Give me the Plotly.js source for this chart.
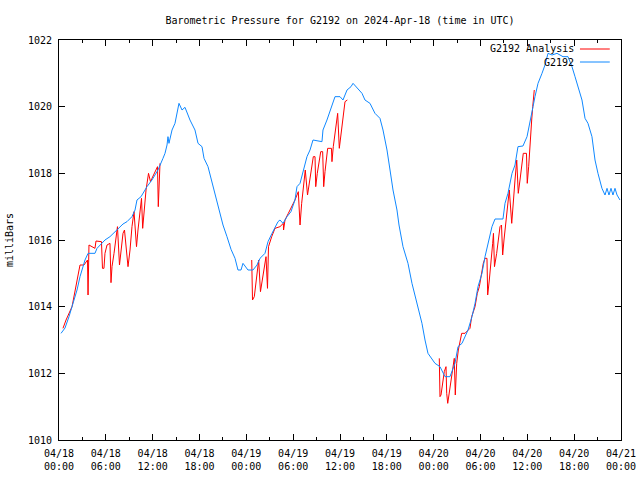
<!DOCTYPE html>
<html>
<head>
<meta charset="utf-8">
<script src="https://cdn.plot.ly/plotly-3.0.1.min.js"></script>
<style>html,body{margin:0;padding:0;background:#fff;}#chart{width:640px;height:480px;}</style>
</head>
<body>
<div id="chart"></div>
<script>
// Hours since 2024-04-18 00:00 UTC
var stationHours = [0.26,0.77,1.28,1.79,2.31,2.69,3.07,3.33,3.72,4.61,4.87,5.25,5.89,6.53,7.43,8.20,8.71,9.35,9.74,9.99,10.51,10.76,11.27,11.91,12.30,12.68,13.32,13.58,13.84,13.96,14.09,14.48,14.86,15.12,15.37,15.76,16.14,16.53,16.78,17.42,17.81,18.32,18.58,19.09,19.73,20.37,21.01,21.52,22.04,22.55,22.93,23.32,23.57,24.21,24.85,25.37,25.75,26.39,26.78,27.29,27.67,28.06,28.31,28.70,29.21,29.72,30.23,30.49,30.88,31.26,31.77,32.16,32.54,33.69,33.82,34.33,34.97,35.36,36.00,36.38,36.90,37.41,37.67,38.05,38.31,38.82,39.20,39.84,40.48,41.12,41.51,42.02,42.41,42.79,43.30,43.56,44.07,44.71,45.22,45.86,46.50,46.89,47.27,48.17,48.81,49.45,50.09,50.73,51.12,51.63,52.40,52.91,53.30,53.68,54.19,54.58,54.96,55.47,55.86,56.88,57.14,57.52,58.04,58.42,58.80,59.44,59.96,60.34,60.73,60.98,61.37,61.88,62.26,62.65,63.16,63.80,64.18,64.57,65.21,65.72,66.11,66.49,67.00,67.39,67.77,68.28,68.67,69.05,69.56,69.95,70.21,70.46,70.72,70.97,71.23,71.49,71.87];
var stationPressure = [1013.2,1013.36,1013.7,1014.1,1014.5,1014.9,1015.2,1015.4,1015.6,1015.6,1015.75,1015.85,1016.0,1016.1,1016.3,1016.48,1016.55,1016.7,1016.9,1017.2,1017.3,1017.4,1017.6,1017.8,1017.95,1018.1,1018.45,1018.6,1018.85,1019.1,1018.9,1019.3,1019.5,1019.8,1020.1,1019.9,1019.98,1019.75,1019.6,1019.3,1018.9,1018.8,1018.45,1018.2,1017.6,1017.0,1016.45,1016.1,1015.72,1015.45,1015.1,1015.1,1015.3,1015.1,1015.1,1015.25,1015.45,1015.6,1015.95,1016.2,1016.4,1016.55,1016.6,1016.5,1016.7,1016.85,1017.2,1017.6,1017.7,1018.05,1018.5,1018.7,1019.0,1018.95,1019.3,1019.6,1020.0,1020.3,1020.3,1020.2,1020.5,1020.6,1020.7,1020.6,1020.55,1020.4,1020.2,1020.1,1019.8,1019.65,1019.3,1018.7,1018.1,1017.5,1016.9,1016.45,1015.8,1015.3,1014.7,1014.1,1013.5,1013.0,1012.6,1012.3,1012.2,1011.9,1011.9,1012.3,1012.8,1012.9,1013.3,1013.7,1014.1,1014.6,1015.0,1015.5,1015.9,1016.4,1016.63,1016.63,1017.1,1017.4,1018.0,1018.25,1018.8,1018.82,1019.1,1019.5,1020.0,1020.3,1020.7,1021.0,1021.25,1021.6,1021.55,1021.6,1021.55,1021.5,1021.5,1021.2,1020.9,1020.6,1020.2,1019.65,1019.5,1019.1,1018.4,1018.0,1017.55,1017.35,1017.55,1017.35,1017.55,1017.35,1017.55,1017.35,1017.2];

var analysisHoursA = [0.51,0.90,1.67,2.69,3.20,3.65,3.72,3.84,4.61,4.74,5.44,5.57,5.76,5.89,6.15,6.53,6.66,6.79,7.05,7.30,7.49,7.75,7.94,8.20,8.39,8.84,9.10,9.35,9.61,9.93,10.12,10.38,10.57,10.72,10.89,11.15,11.47,11.59,11.72,11.91,12.43,12.62,12.72,12.81,12.94];
var analysisPressureA = [1013.35,1013.6,1014.0,1015.25,1015.25,1015.4,1014.35,1015.85,1015.75,1015.97,1015.95,1015.15,1015.15,1015.6,1015.85,1015.9,1014.72,1015.2,1015.6,1016.15,1016.4,1015.25,1015.6,1016.2,1016.3,1015.2,1015.7,1016.4,1016.85,1015.8,1016.3,1016.9,1017.25,1016.35,1016.8,1017.5,1018.0,1017.85,1017.75,1017.85,1018.1,1018.2,1017.0,1017.8,1018.3];
var analysisHoursB = [24.69,24.79,25.02,25.24,25.58,25.81,26.10,26.52,26.71,26.84,27.25,27.67,28.31,28.74,28.77,28.95,29.38,29.81,30.23,30.66,30.88,31.09,31.30,31.55,31.84,32.16,32.37,32.58,32.80,32.89,33.09,33.35,33.53,33.78,33.91,34.08,34.30,34.42,34.91,34.97,35.14,35.36,35.58,35.70,35.91,36.22,36.42,36.64,36.94];
var analysisPressureB = [1015.4,1014.2,1014.3,1014.7,1015.4,1014.45,1014.9,1015.5,1014.55,1015.8,1016.1,1016.35,1016.4,1016.5,1016.3,1016.6,1016.8,1017.0,1017.2,1017.45,1016.45,1017.1,1017.6,1018.1,1017.35,1017.8,1018.2,1018.5,1018.5,1017.6,1018.0,1018.4,1018.65,1018.65,1017.6,1018.05,1018.6,1018.75,1018.75,1018.35,1018.8,1019.2,1019.6,1019.8,1018.75,1019.4,1019.8,1020.15,1020.2];
var analysisHoursC = [48.72,48.81,48.94,49.16,49.36,49.58,49.67,49.80,50.00,50.18,50.35,50.51,50.64,50.77,50.95,51.16,51.37,51.59,52.01,52.65,52.87,53.30,53.59,53.85,54.36,54.58,54.83,54.92,55.13,55.34,55.56,55.66,55.79,56.07,56.50,56.69,56.84,57.01,57.27,57.56,57.69,58.00,58.20,58.42,58.64,58.84,59.06,59.28,59.48,59.89,59.99,60.17,60.34,60.56,60.69,60.89];
var analysisPressureC = [1012.45,1011.3,1011.35,1011.8,1012.05,1012.2,1011.4,1011.1,1011.4,1011.7,1011.95,1012.2,1012.45,1011.35,1012.3,1012.7,1013.0,1013.2,1013.2,1013.35,1013.7,1014.0,1014.4,1014.6,1015.3,1015.45,1015.45,1014.35,1014.8,1015.25,1015.9,1016.2,1015.2,1015.6,1016.4,1016.45,1015.55,1016.0,1016.6,1017.1,1017.5,1016.5,1017.3,1017.8,1018.4,1017.4,1017.8,1018.2,1018.6,1018.6,1017.7,1018.2,1019.0,1019.6,1020.0,1020.5];

var tickHours = [0,6,12,18,24,30,36,42,48,54,60,66,72];
var tickLabels = ["04/18<br>00:00","04/18<br>06:00","04/18<br>12:00","04/18<br>18:00","04/19<br>00:00","04/19<br>06:00","04/19<br>12:00","04/19<br>18:00","04/20<br>00:00","04/20<br>06:00","04/20<br>12:00","04/20<br>18:00","04/21<br>00:00"];
var seriesNames = ["G2192 Analysis", "G2192"];
var seriesColors = ["#ff0000", "#0f88ff"];

var analysisX = analysisHoursA.concat([null], analysisHoursB, [null], analysisHoursC);
var analysisY = analysisPressureA.concat([null], analysisPressureB, [null], analysisPressureC);

var font = {family: "DejaVu Sans Mono, Liberation Mono, monospace", size: 10, color: "#000"};

var traces = [
  {x: analysisX, y: analysisY, type: "scatter", mode: "lines", name: seriesNames[0],
   line: {color: seriesColors[0], width: 1}, connectgaps: false},
  {x: stationHours, y: stationPressure, type: "scatter", mode: "lines", name: seriesNames[1],
   line: {color: seriesColors[1], width: 1}}
];

var legendY = [0.9775, 0.945];
var annotations = [], shapes = [];
for (var i = 0; i < seriesNames.length; i++) {
  annotations.push({xref: "paper", yref: "paper", x: 0.920, y: legendY[i], xanchor: "right", yanchor: "middle",
    text: seriesNames[i], showarrow: false, font: font});
  shapes.push({type: "line", xref: "paper", yref: "paper", x0: 0.927, x1: 0.980, y0: legendY[i], y1: legendY[i],
    line: {color: seriesColors[i], width: 1}});
}

var layout = {
  width: 640, height: 480,
  margin: {l: 59, r: 19, t: 40, b: 40},
  paper_bgcolor: "#fff", plot_bgcolor: "#fff",
  font: font,
  showlegend: false,
  title: {text: "Barometric Pressure for G2192 on 2024-Apr-18 (time in UTC)", font: font,
    x: 0.5, xref: "paper", xanchor: "center", y: 0.958, yref: "container", yanchor: "middle"},
  xaxis: {range: [0, 72], tickmode: "array", tickvals: tickHours, ticktext: tickLabels,
    ticks: "inside", ticklen: 6, tickcolor: "#000", showline: true, linecolor: "#000", linewidth: 1,
    mirror: "ticks", showgrid: false, zeroline: false, tickfont: font, ticklabelstandoff: 4,
    minor: {tickmode: "linear", tick0: 0, dtick: 3, ticks: "inside", ticklen: 3, tickcolor: "#000", showgrid: false}},
  yaxis: {range: [1010, 1022], tickmode: "linear", tick0: 1010, dtick: 2,
    ticks: "inside", ticklen: 6, tickcolor: "#000", showline: true, linecolor: "#000", linewidth: 1,
    mirror: "ticks", showgrid: false, zeroline: false, tickfont: font, ticklabelstandoff: 4,
    title: {text: "milliBars", font: font, standoff: 12}},
  annotations: annotations,
  shapes: shapes
};

Plotly.newPlot("chart", traces, layout, {staticPlot: true, displayModeBar: false});
</script>
</body>
</html>
